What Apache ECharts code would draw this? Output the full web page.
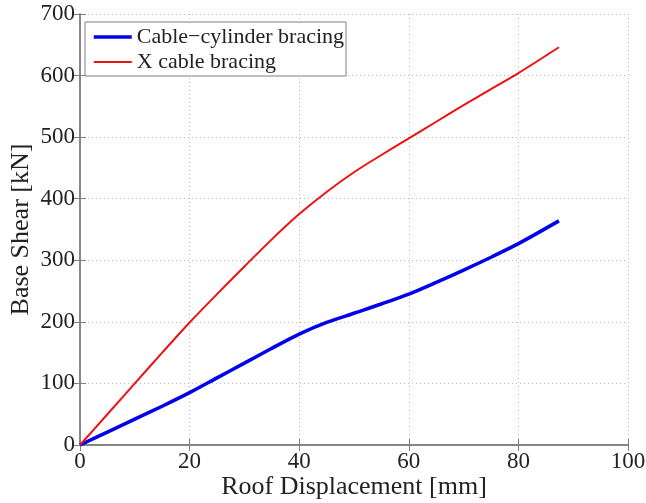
<!DOCTYPE html>
<html>
<head>
<meta charset="utf-8">
<script src="https://cdn.jsdelivr.net/npm/echarts@6/dist/echarts.min.js"></script>
<style>html,body{margin:0;padding:0;background:#fff}#c{width:646px;height:503px}</style>
</head>
<body>
<div id="c"></div>
<script>
var seriesNames = ['Cable\u2212cylinder bracing', 'X cable bracing'];
var dispBlue = [0, 5, 10, 15, 20, 25, 30, 35, 40, 45, 50, 55, 60, 65, 70, 75, 80, 87.4];
var shearBlue = [0, 21, 42, 63, 85, 109, 133, 157, 180, 199, 214, 229, 245, 264, 284, 305, 327, 364];
var dispRed = [0, 5, 10, 15, 20, 25, 30, 35, 40, 45, 50, 55, 60, 65, 70, 75, 80, 87.4];
var shearRed = [0, 50, 100, 150, 199, 245, 290, 334, 375, 411, 443, 471, 498, 525, 552, 578, 604, 646];
var xTicks = [0, 20, 40, 60, 80, 100];
var yTicks = [0, 100, 200, 300, 400, 500, 600, 700];

function pairs(xs, ys) { return xs.map(function (x, i) { return [x, ys[i]]; }); }

var font = 'Liberation Serif, Times New Roman, serif';
var chart = echarts.init(document.getElementById('c'));
var common = {
  type: 'value',
  axisLine: { show: true, lineStyle: { color: '#808080', width: 1.5 } },
  axisTick: { show: true, inside: true, length: 6, lineStyle: { color: '#808080' } }
};
chart.setOption({
  animation: false,
  backgroundColor: '#fff',
  grid: { left: 80, right: 18, top: 14, bottom: 58, containLabel: false, outerBoundsMode: 'none' },
  legend: {
    orient: 'vertical', left: 85, top: 22,
    data: [
      { name: seriesNames[0], lineStyle: { width: 3.5 } },
      { name: seriesNames[1], lineStyle: { width: 2 } }
    ],
    backgroundColor: '#fff', borderColor: '#808080', borderWidth: 1,
    padding: [4, 2, 3, 7], itemGap: 3,
    itemWidth: 38, itemHeight: 22,
    itemStyle: { opacity: 0 },
    textStyle: { fontFamily: font, fontSize: 22, color: '#222', lineHeight: 22 }
  },
  xAxis: [
    Object.assign({}, common, {
      min: xTicks[0], max: xTicks[xTicks.length - 1], interval: 20, position: 'bottom',
      name: 'Roof Displacement [mm]', nameLocation: 'middle', nameGap: 29, nameMoveOverlap: false,
      nameTextStyle: { fontFamily: font, fontSize: 26, color: '#222' },
      axisLabel: { fontFamily: font, fontSize: 23, color: '#222', margin: 5 },
      splitLine: { show: true, lineStyle: { color: '#bbb', type: [1, 3] } }
    }),
    Object.assign({}, common, {
      min: xTicks[0], max: xTicks[xTicks.length - 1], interval: 20, position: 'top',
      axisLabel: { show: false }, splitLine: { show: false }
    })
  ],
  yAxis: [
    Object.assign({}, common, {
      min: yTicks[0], max: yTicks[yTicks.length - 1], interval: 100, position: 'left',
      name: 'Base Shear [kN]', nameLocation: 'middle', nameGap: 46, nameMoveOverlap: false,
      nameTextStyle: { fontFamily: font, fontSize: 26, color: '#222' },
      axisLabel: { fontFamily: font, fontSize: 23, color: '#222', margin: 5 },
      splitLine: { show: true, lineStyle: { color: '#bbb', type: [1, 3] } }
    }),
    Object.assign({}, common, {
      min: yTicks[0], max: yTicks[yTicks.length - 1], interval: 100, position: 'right',
      axisLabel: { show: false }, splitLine: { show: false }
    })
  ],
  series: [
    {
      name: seriesNames[0], type: 'line', data: pairs(dispBlue, shearBlue),
      symbol: 'none', smooth: 0.3, color: '#0000ee',
      lineStyle: { width: 3.5, color: '#0000ee' }
    },
    {
      name: seriesNames[1], type: 'line', data: pairs(dispRed, shearRed),
      symbol: 'none', smooth: 0.3, color: '#ee1111',
      lineStyle: { width: 2, color: '#ee1111' }
    }
  ]
});
</script>
</body>
</html>
